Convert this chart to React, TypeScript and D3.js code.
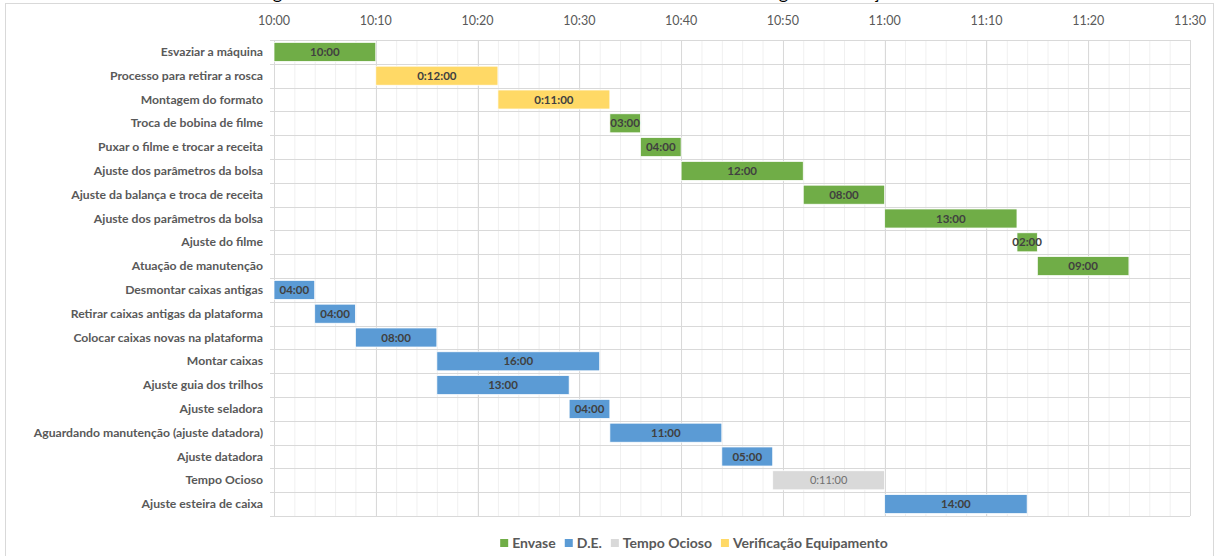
import React, { useMemo } from "react";
import * as d3 from "d3";

const categories = [
  "Esvaziar a máquina",
  "Processo para retirar a rosca",
  "Montagem do formato",
  "Troca de bobina de filme",
  "Puxar o filme e trocar a receita",
  "Ajuste dos parâmetros da bolsa",
  "Ajuste da balança e troca de receita",
  "Ajuste dos parâmetros da bolsa",
  "Ajuste do filme",
  "Atuação de manutenção",
  "Desmontar caixas antigas",
  "Retirar caixas antigas da plataforma",
  "Colocar caixas novas na plataforma",
  "Montar caixas",
  "Ajuste guia dos trilhos",
  "Ajuste seladora",
  "Aguardando manutenção (ajuste datadora)",
  "Ajuste datadora",
  "Tempo Ocioso",
  "Ajuste esteira de caixa",
];
// start, in minutes after 10:00
const startMinutes = [0, 10, 22, 33, 36, 40, 52, 60, 73, 75, 0, 4, 8, 16, 16, 29, 33, 44, 49, 60];
// duration in minutes
const durations = [10, 12, 11, 3, 4, 12, 8, 13, 2, 9, 4, 4, 8, 16, 13, 4, 11, 5, 11, 14];
const barSeries = [
  "Envase", "Verificação Equipamento", "Verificação Equipamento", "Envase", "Envase",
  "Envase", "Envase", "Envase", "Envase", "Envase",
  "D.E.", "D.E.", "D.E.", "D.E.", "D.E.", "D.E.", "D.E.", "D.E.", "Tempo Ocioso", "D.E.",
];
const barLabels = [
  "10:00", "0:12:00", "0:11:00", "03:00", "04:00", "12:00", "08:00", "13:00", "02:00", "09:00",
  "04:00", "04:00", "08:00", "16:00", "13:00", "04:00", "11:00", "05:00", "0:11:00", "14:00",
];
const tickLabels = ["10:00", "10:10", "10:20", "10:30", "10:40", "10:50", "11:00", "11:10", "11:20", "11:30"];
const tickMinutes = [0, 10, 20, 30, 40, 50, 60, 70, 80, 90];
const seriesNames = ["Envase", "D.E.", "Tempo Ocioso", "Verificação Equipamento"];
const seriesColors = ["#70AD47", "#5B9BD5", "#D9D9D9", "#FFD966"];
const chartTitle = "Diagrama das atividades realizadas na troca de formato e de embalagem – Situação atual";

const FONT = "Lato, 'Open Sans', sans-serif";

function measure(text: string, font: string): number {
  const c = document.createElement("canvas").getContext("2d");
  if (!c) return text.length * 7;
  c.font = font;
  return c.measureText(text).width;
}

export default function App() {
  const W = 1216;
  const H = 556;
  const plotLeft = 274;
  const plotRight = 1190;
  const plotTop = 40;
  const plotBottom = 516;

  const x = d3.scaleLinear().domain([0, 90]).range([plotLeft, plotRight]);
  const y = d3
    .scaleBand<number>()
    .domain(d3.range(categories.length))
    .range([plotTop, plotBottom])
    .padding(0);
  const rowH = y.bandwidth();
  const color = d3.scaleOrdinal<string, string>().domain(seriesNames).range(seriesColors);

  const minorTicks = d3.range(0, 91, 2);

  const legend = useMemo(() => {
    const font = `bold 14px ${FONT}`;
    const sq = 8;
    const gapSq = 4;
    const gapItem = 9;
    const items = seriesNames.map((n) => ({ name: n, w: measure(n, font) }));
    const total = items.reduce((s, it) => s + sq + gapSq + it.w, 0) + gapItem * (items.length - 1);
    let cx = 694 - total / 2;
    return items.map((it) => {
      const o = { ...it, x: cx };
      cx += sq + gapSq + it.w + gapItem;
      return o;
    });
  }, []);

  return (
    <svg
      width={W}
      height={H}
      style={{ position: "absolute", left: 0, top: 0, background: "#fff" }}
      fontFamily={FONT}
    >
      <rect x={0} y={0} width={W} height={H} fill="#fff" />
      {/* chart area border */}
      <rect x={5.5} y={3.5} width={1208} height={H + 10} fill="none" stroke="#D9D9D9" strokeWidth={1} />
      {/* title (cut off at top, as in the reference) */}
      <text x={246} y={-1} fontSize={18} fill="#000" fontFamily={FONT}>
        {chartTitle}
      </text>

      {/* minor vertical gridlines */}
      {minorTicks.map((m) => (
        <line
          key={"mn" + m}
          x1={x(m) + 0.5}
          x2={x(m) + 0.5}
          y1={plotTop}
          y2={plotBottom}
          stroke="#F0F0F0"
          strokeWidth={1}
        />
      ))}
      {/* horizontal row lines */}
      {d3.range(categories.length + 1).map((i) => {
        const yy = Math.round(plotTop + i * rowH) + 0.5;
        return (
          <line key={"h" + i} x1={plotLeft - 4} x2={plotRight} y1={yy} y2={yy} stroke="#D9D9D9" strokeWidth={1} />
        );
      })}
      {/* major vertical gridlines */}
      {tickMinutes.map((m) => (
        <line
          key={"mj" + m}
          x1={Math.round(x(m)) + 0.5}
          x2={Math.round(x(m)) + 0.5}
          y1={plotTop}
          y2={plotBottom}
          stroke="#D9D9D9"
          strokeWidth={1}
        />
      ))}

      {/* top axis labels */}
      {tickMinutes.map((m, i) => (
        <text key={"t" + m} x={x(m)} y={25} textAnchor="middle" fontSize={12.5} fill="#595959">
          {tickLabels[i]}
        </text>
      ))}

      {/* category labels */}
      {categories.map((c, i) => (
        <text
          key={"c" + i}
          x={263}
          y={(y(i) as number) + rowH / 2 + 4}
          textAnchor="end"
          fontSize={12.2}
          fontWeight="bold"
          fill="#595959"
        >
          {c}
        </text>
      ))}

      {/* bars */}
      {categories.map((c, i) => {
        const x0 = x(startMinutes[i]);
        const x1 = x(startMinutes[i] + durations[i]);
        const by = (y(i) as number) + rowH * 0.1;
        const bh = rowH * 0.8;
        return (
          <rect
            key={"b" + i}
            x={x0}
            y={by}
            width={x1 - x0}
            height={bh}
            fill={color(barSeries[i])}
            stroke="#fff"
            strokeWidth={0.75}
          />
        );
      })}
      {/* bar labels */}
      {categories.map((c, i) => {
        const xm = x(startMinutes[i] + durations[i] / 2);
        const idle = barSeries[i] === "Tempo Ocioso";
        return (
          <text
            key={"l" + i}
            x={xm}
            y={(y(i) as number) + rowH / 2 + 4}
            textAnchor="middle"
            fontSize={idle ? 11 : 11.5}
            fontWeight={idle ? "normal" : "bold"}
            fill={idle ? "#707070" : "#404040"}
          >
            {barLabels[i]}
          </text>
        );
      })}

      {/* legend */}
      {legend.map((it, i) => (
        <g key={"lg" + i}>
          <rect x={it.x} y={539} width={8} height={8} fill={seriesColors[i]} />
          <text x={it.x + 12} y={548} fontSize={14} fontWeight="bold" fill="#595959">
            {it.name}
          </text>
        </g>
      ))}
    </svg>
  );
}
